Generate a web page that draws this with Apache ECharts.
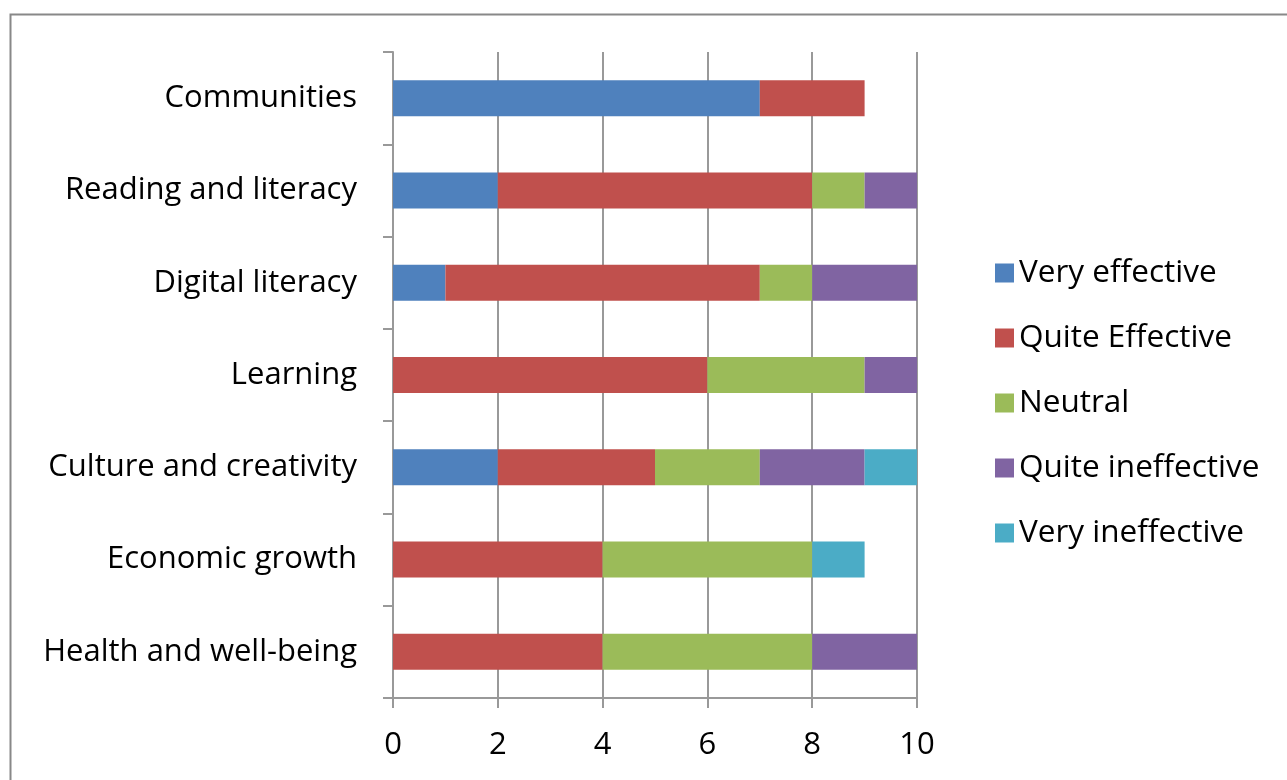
<!DOCTYPE html>
<html><head><meta charset="utf-8">
<script src="https://cdn.jsdelivr.net/npm/echarts@6/dist/echarts.min.js"></script>
<style>html,body{margin:0;padding:0;background:#fff;}#c{width:1287px;height:780px;}</style>
</head><body><div id="c"></div>
<script>
const categories = ["Communities","Reading and literacy","Digital literacy","Learning","Culture and creativity","Economic growth","Health and well-being"];
const veryEffective   = [7, 2, 1, 0, 2, 0, 0];
const quiteEffective  = [2, 6, 6, 6, 3, 4, 4];
const neutral         = [0, 1, 1, 3, 2, 4, 4];
const quiteIneffective= [0, 1, 2, 1, 2, 0, 2];
const veryIneffective = [0, 0, 0, 0, 1, 1, 0];
const xTicks = [0, 2, 4, 6, 8, 10];

const FONT = "'Open Sans', sans-serif";
const names = ["Very effective","Quite Effective","Neutral","Quite ineffective","Very ineffective"];
const colors = ["#4F81BD","#C0504D","#9BBB59","#8064A2","#4BACC6"];
const datas = [veryEffective, quiteEffective, neutral, quiteIneffective, veryIneffective];

const chart = echarts.init(document.getElementById('c'), null, {renderer:'canvas'});
chart.setOption({
  animation:false,
  backgroundColor:'#fff',
  textStyle:{fontFamily:FONT},
  graphic:[{type:'rect', left:8, top:12, shape:{width:1300, height:800}, style:{fill:'none', stroke:'#888', lineWidth:2}, silent:true, z:-1}],
  grid:{left:393, right:370, top:52, bottom:82, containLabel:false},
  legend:{
    orient:'vertical', left:990, top:252,
    itemWidth:19, itemHeight:19, itemGap:33,
    icon:'rect',
    textStyle:{fontFamily:FONT, fontSize:31.5, color:'#000', lineHeight:30, padding:[0,0,0,0]},
    data:names
  },
  xAxis:{
    type:'value', min:xTicks[0], max:xTicks[xTicks.length-1], interval:2,
    axisLine:{show:true, lineStyle:{color:'#999', width:2}},
    axisTick:{show:true, length:10, lineStyle:{color:'#999', width:2}},
    axisLabel:{fontFamily:FONT, fontSize:31, color:'#000', margin:32},
    splitLine:{show:true, lineStyle:{color:'#999', width:2}}
  },
  yAxis:{
    type:'category', data:categories, inverse:true,
    axisLine:{show:true, lineStyle:{color:'#999', width:2}},
    axisTick:{show:true, length:10, alignWithLabel:false, lineStyle:{color:'#999', width:2}},
    axisLabel:{fontFamily:FONT, fontSize:31, color:'#000', margin:36},
    splitLine:{show:false}
  },
  series: datas.map((d,i)=>({
    name:names[i], type:'bar', stack:'total', data:d, barWidth:36,
    itemStyle:{color:colors[i]}
  }))
});
</script></body></html>
